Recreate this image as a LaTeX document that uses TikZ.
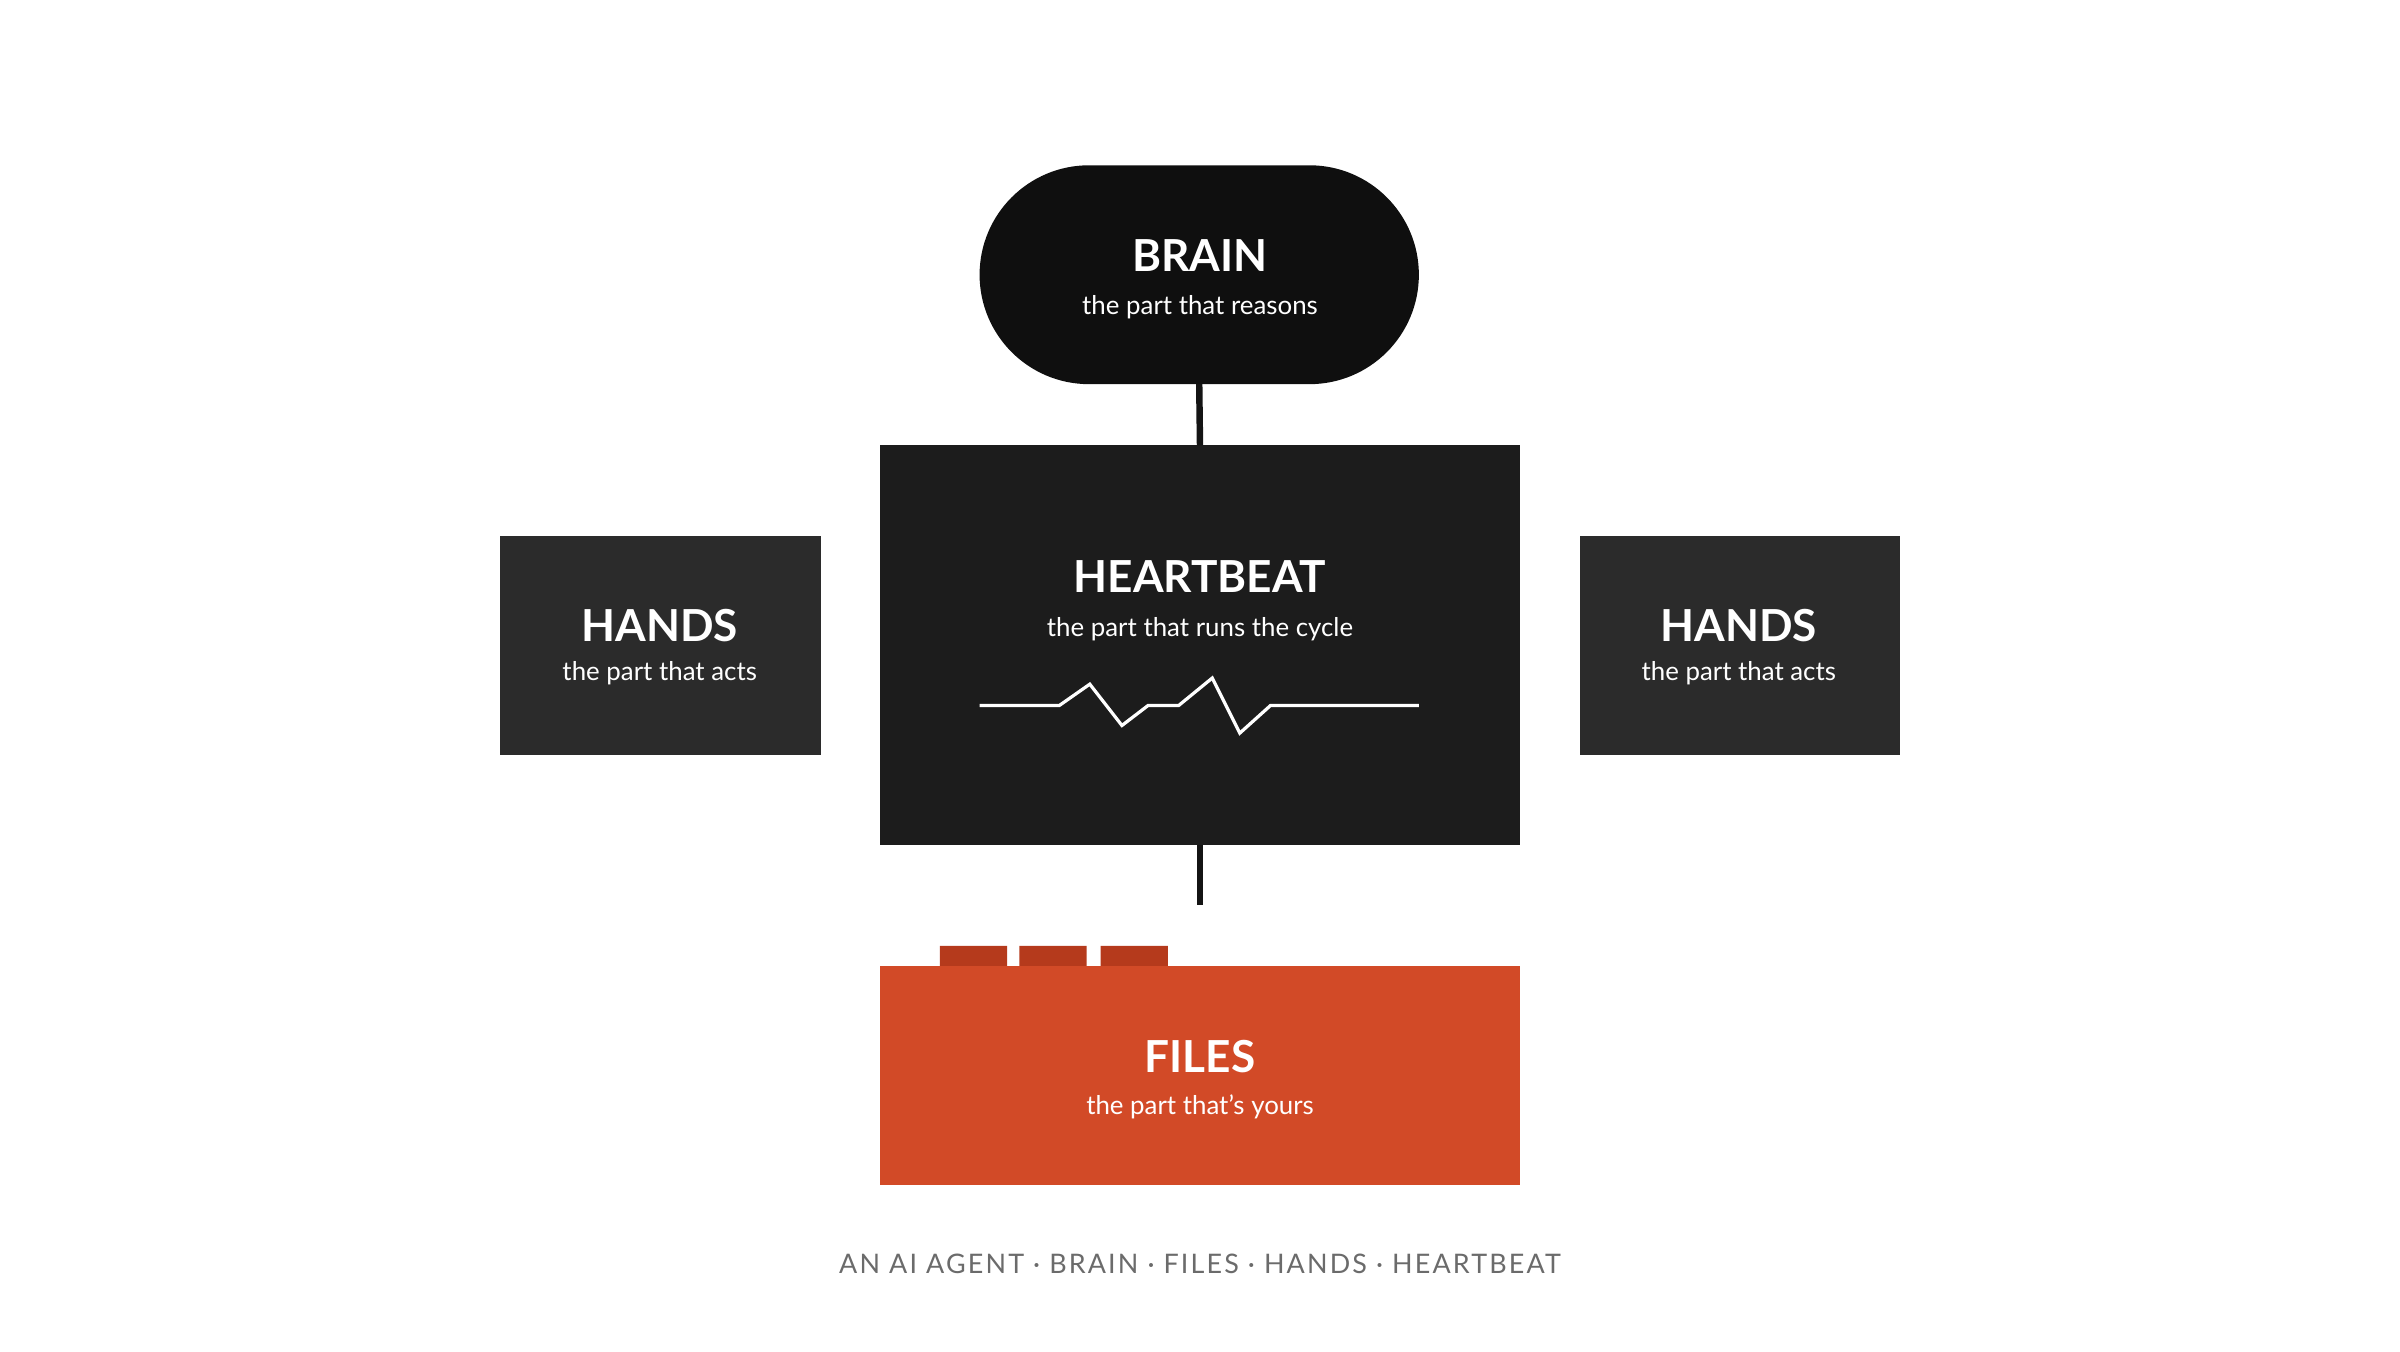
\documentclass[tikz,border=0pt]{standalone}
\usepackage{fontspec}
\setmainfont{Lato}
\newfontfamily\capfont[LetterSpace=8]{Lato}
\begin{document}
\begin{tikzpicture}[x=0.01cm,y=-0.01cm,
  ttl/.style={text=white,font=\fontsize{8.2}{9}\selectfont\bfseries},
  sub/.style={text=#1,font=\fontsize{4.8}{6}\selectfont},
  box/.style={draw=none,inner sep=0,outer sep=0},
  conn/.style={line width=1.2pt,draw=black!92}]
\useasboundingbox (0,0) rectangle (1568,883);
\definecolor{brainc}{HTML}{0F0F0F}
\definecolor{heartc}{HTML}{1C1C1C}
\definecolor{handc}{HTML}{2B2B2B}
\definecolor{filec}{HTML}{D24A27}
\definecolor{tabc}{HTML}{B53A1C}
% brain
\fill[brainc,rounded corners=71.5*0.01cm] (640,108) rectangle (927,251);
\coordinate (brain) at (783.5,251);
\node[ttl] (bt) at (784,167) {BRAIN};
\node[sub=white!75] (bs) at (784,201) {the part that reasons};
% heartbeat
\node[box,fill=heartc,minimum width=4.18cm,minimum height=2.61cm] (heart) at (784,421.5) {};
\node[ttl] (ht) at (784,377) {HEARTBEAT};
\node[sub=white!75] (hs) at (784,411) {the part that runs the cycle};
\draw[white,line width=0.6pt,line join=miter] (640,461)--(692,461)--(712,447)--(733,474)--(750,461)--(770,461)--(792,443)--(810,479)--(830,461)--(927,461);
% hands
\node[box,fill=handc,minimum width=2.09cm,minimum height=1.43cm] (hl) at (431.5,421.5) {};
\node[ttl] at (431,409) {HANDS};
\node[sub=white!75] at (431,440) {the part that acts};
\node[box,fill=handc,minimum width=2.09cm,minimum height=1.43cm] (hr) at (1136.5,421.5) {};
\node[ttl] at (1136,409) {HANDS};
\node[sub=white!75] at (1136,440) {the part that acts};
% files
\fill[tabc] (614,618) rectangle (658,632) (666,618) rectangle (710,632) (719,618) rectangle (763,632);
\node[box,fill=filec,minimum width=4.18cm,minimum height=1.43cm] (files) at (784,702.5) {};
\node[ttl] at (784,690) {FILES};
\node[sub=white!92] at (784,723) {the part that's yours};
% connectors
\draw[conn] (brain) -- (heart.north);
\coordinate (hb) at (784,591);
\draw[conn] (heart.south) -- (hb);
% caption
\node[text=black!58,font=\capfont\fontsize{5}{6}\selectfont] (cap) at (784,826) {AN AI AGENT · BRAIN · FILES · HANDS · HEARTBEAT};
\end{tikzpicture}
\end{document}
